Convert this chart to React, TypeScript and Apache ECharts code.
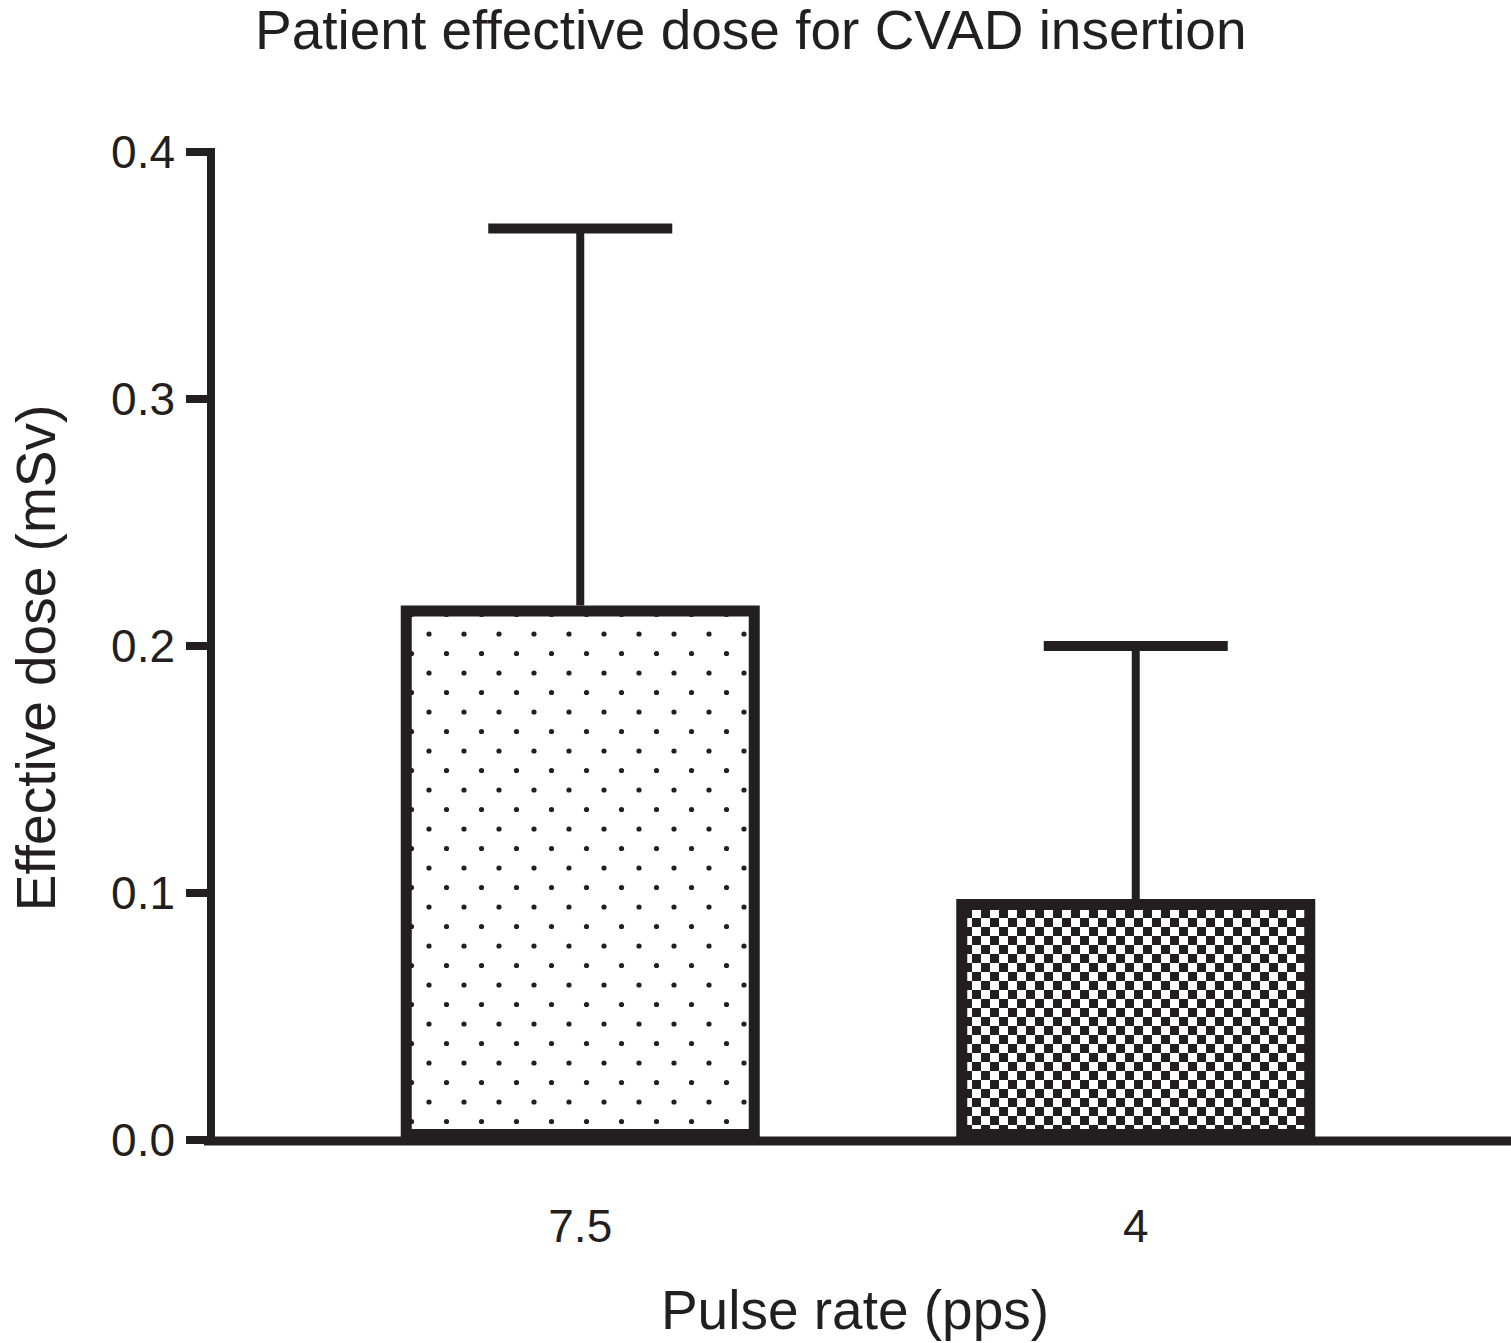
import React, { useEffect, useRef } from "react";
import * as echarts from "echarts";

const categories = ["7.5", "4"];
const meanValues = [0.2164, 0.0976];
const errorUpper = [0.369, 0.2];
const yTicks = [0, 0.1, 0.2, 0.3, 0.4];

const INK = "#231f20";

function dotPattern(): HTMLCanvasElement {
  const c = document.createElement("canvas");
  c.width = 35;
  c.height = 39;
  const ctx = c.getContext("2d")!;
  ctx.fillStyle = "#ffffff";
  ctx.fillRect(0, 0, 35, 39);
  ctx.fillStyle = INK;
  const dots = [
    [9, 10],
    [26.5, 29.5],
  ];
  for (const [x, y] of dots) {
    ctx.beginPath();
    ctx.arc(x, y, 2.6, 0, Math.PI * 2);
    ctx.fill();
  }
  return c;
}

function checkerPattern(): HTMLCanvasElement {
  const c = document.createElement("canvas");
  c.width = 18;
  c.height = 18;
  const ctx = c.getContext("2d")!;
  ctx.fillStyle = "#ffffff";
  ctx.fillRect(0, 0, 18, 18);
  ctx.fillStyle = INK;
  ctx.fillRect(0, 0, 9, 9);
  ctx.fillRect(9, 9, 9, 9);
  return c;
}

export default function App() {
  const ref = useRef<HTMLDivElement>(null);
  useEffect(() => {
    document.body.style.margin = "0";
    const chart = echarts.init(ref.current!, null, { renderer: "svg" });
    const patterns = [dotPattern(), checkerPattern()];
    const font = "Liberation Sans, Arial, Helvetica, sans-serif";
    chart.setOption({
      animation: false,
      backgroundColor: "#ffffff",
      title: {
        text: "Patient effective dose for CVAD insertion",
        left: 250,
        top: 0,
        padding: [2, 5, 5, 5],
        textStyle: { fontFamily: font, fontSize: 55, fontWeight: "normal", color: INK },
      },
      grid: { left: 299.5, right: 97.5, top: 152, bottom: 203, containLabel: false },
      xAxis: {
        type: "category",
        data: categories,
        name: "Pulse rate (pps)",
        nameLocation: "middle",
        nameGap: 142,
        nameTextStyle: { fontFamily: font, fontSize: 55, color: INK, padding: [0, 6, 0, 0] },
        axisLine: { show: false },
        axisTick: { show: false },
        axisLabel: { fontFamily: font, fontSize: 46, color: INK, margin: 63 },
      },
      yAxis: {
        type: "value",
        min: 0,
        max: 0.4,
        interval: 0.1,
        offset: 91.5,
        name: "Effective dose (mSv)",
        nameLocation: "middle",
        nameGap: 148,
        nameTextStyle: { fontFamily: font, fontSize: 55, color: INK, padding: [0, 24, 0, 0] },
        splitLine: { show: false },
        axisLine: { show: true, lineStyle: { color: INK, width: 8, cap: "square" } },
        axisTick: { show: true, length: 25, lineStyle: { color: INK, width: 8 } },
        axisLabel: {
          fontFamily: font,
          fontSize: 46,
          color: INK,
          margin: 36,
          formatter: (v: number) => {
            const i = yTicks.findIndex((t) => Math.abs(t - v) < 1e-9);
            return i >= 0 ? yTicks[i].toFixed(1) : "";
          },
        },
      },
      graphic: [
        {
          type: "line",
          z: 100,
          shape: { x1: 204, y1: 1141, x2: 1511, y2: 1141 },
          style: { stroke: INK, lineWidth: 9 },
        },
      ],
      series: [
        {
          type: "custom",
          z: 1,
          data: categories.map((_, i) => [i, meanValues[i], errorUpper[i]]),
          renderItem: (params: any, api: any) => {
            const idx = api.value(0);
            const base = api.coord([idx, api.value(1)]);
            const top = api.coord([idx, api.value(2)]);
            const half = 92;
            return {
              type: "group",
              children: [
                {
                  type: "line",
                  shape: { x1: base[0], y1: base[1], x2: top[0], y2: top[1] },
                  style: { stroke: INK, lineWidth: 8 },
                },
                {
                  type: "line",
                  shape: { x1: top[0] - half, y1: top[1], x2: top[0] + half, y2: top[1] },
                  style: { stroke: INK, lineWidth: 10 },
                },
              ],
            };
          },
        },
        {
          type: "bar",
          z: 2,
          barWidth: 359,
          data: meanValues.map((v, i) => ({
            value: v,
            itemStyle: {
              color: { image: patterns[i], repeat: "repeat" },
              borderColor: INK,
              borderWidth: 11,
            },
          })),
        },
      ],
    });
    return () => chart.dispose();
  }, []);
  return <div ref={ref} style={{ width: 1511, height: 1343 }} />;
}
